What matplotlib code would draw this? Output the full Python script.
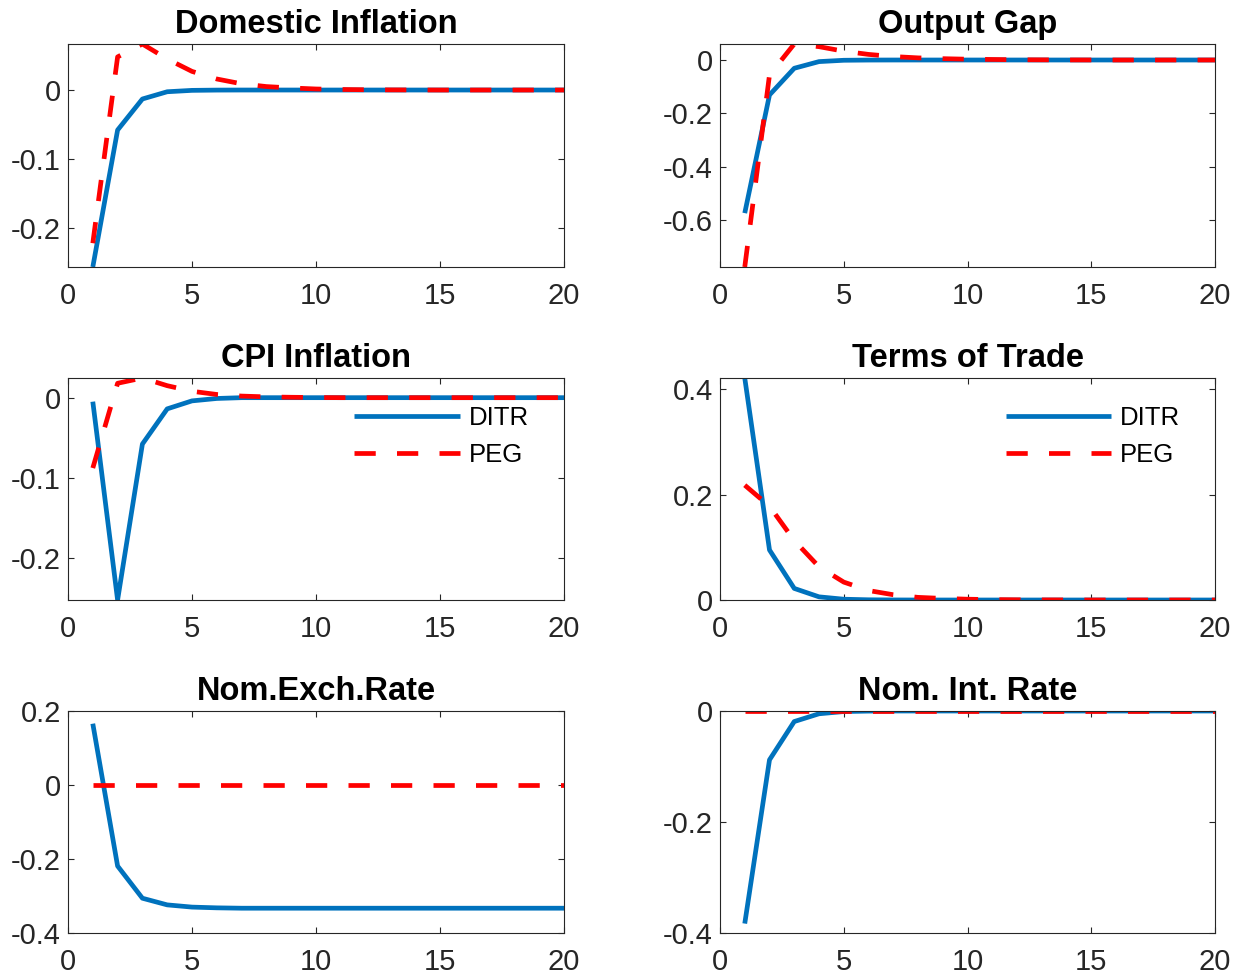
import matplotlib
matplotlib.use('Agg')
import matplotlib.pyplot as plt
from matplotlib.ticker import FormatStrFormatter
import numpy as np

plt.rcParams['font.family'] = ['Liberation Sans', 'DejaVu Sans']
plt.rcParams['axes.unicode_minus'] = False

# ── Data: impulse responses, periods 1..20 ────────────────────────────────────
periods = np.arange(1, 21)

dom_ditr = [-0.2565, -0.058, -0.013, -0.0025, -0.0005, -0.0001] + [0.0] * 14
dom_peg = [-0.222, 0.048, 0.0667, 0.045, 0.027, 0.016, 0.009, 0.005, 0.003,
           0.0015, 0.0008, 0.0004, 0.0002, 0.0001] + [0.0] * 6

gap_ditr = [-0.574, -0.131, -0.031, -0.006, -0.001, -0.0002] + [0.0] * 14
gap_peg = [-0.776, -0.056, 0.06, 0.05, 0.033, 0.021, 0.013, 0.008, 0.005,
           0.003, 0.002, 0.001, 0.0006, 0.0003, 0.0001] + [0.0] * 5

cpi_ditr = [-0.005, -0.253, -0.058, -0.014, -0.004, -0.001] + [0.0] * 14
cpi_peg = [-0.088, 0.018, 0.0246, 0.015, 0.008, 0.004, 0.002, 0.001, 0.0005,
           0.0002] + [0.0] * 10

tot_ditr = [0.4215, 0.095, 0.022, 0.006, 0.0015, 0.0004, 0.0001] + [0.0] * 13
tot_peg = [0.218, 0.178, 0.113, 0.063, 0.034, 0.018, 0.010, 0.005, 0.003,
           0.0015, 0.0008, 0.0004, 0.0002, 0.0001] + [0.0] * 6

exr_ditr = [0.1657, -0.219, -0.306, -0.324, -0.330, -0.332] + [-0.333] * 14
exr_peg = [0.0] * 20

int_ditr = [-0.383, -0.088, -0.019, -0.005, -0.001, -0.0002] + [0.0] * 14
int_peg = [0.0] * 20

series_names = ['DITR', 'PEG']

# ── Layout (MATLAB-style subplot grid) ───────────────────────────────────────
W, H = 1243, 975
fig = plt.figure(figsize=(W / 100, H / 100), dpi=100)
fig.patch.set_facecolor('white')

col_x = [68, 720]
col_w = [496, 495]
row_y = [(44, 267), (378, 600), (711, 933)]

blue = '#0072BD'
red = '#FF0000'
ink = '#262626'

panels = [
    ('Domestic Inflation', dom_ditr, dom_peg, [-0.2, -0.1, 0], None, False),
    ('Output Gap', gap_ditr, gap_peg, [-0.6, -0.4, -0.2, 0], None, False),
    ('CPI Inflation', cpi_ditr, cpi_peg, [-0.2, -0.1, 0], None, True),
    ('Terms of Trade', tot_ditr, tot_peg, [0, 0.2, 0.4], None, True),
    ('Nom.Exch.Rate', exr_ditr, exr_peg, [-0.4, -0.2, 0, 0.2], (-0.4, 0.2), False),
    ('Nom. Int. Rate', int_ditr, int_peg, [-0.4, -0.2, 0], (-0.4, 0.0), False),
]

for i, (title, ditr, peg, yticks, ylim, show_leg) in enumerate(panels):
    r, c = divmod(i, 2)
    top, bot = row_y[r]
    ax = fig.add_axes([col_x[c] / W, 1 - bot / H, col_w[c] / W, (bot - top) / H])

    ax.plot(periods, ditr, color=blue, lw=3.4, label=series_names[0],
            solid_capstyle='butt')
    ax.plot(periods, peg, color=red, lw=3.4, linestyle=(0, (4.5, 4.5)),
            label=series_names[1], dash_capstyle='butt')

    ax.set_xlim(0, 20)
    if ylim is None:
        # axis tight
        allv = np.concatenate([ditr, peg])
        ax.set_ylim(allv.min(), allv.max())
    else:
        ax.set_ylim(*ylim)
    ax.set_xticks([0, 5, 10, 15, 20])
    ax.set_yticks(yticks)
    ax.yaxis.set_major_formatter(FormatStrFormatter('%g'))

    for sp in ax.spines.values():
        sp.set_color(ink)
        sp.set_linewidth(0.8)
    ax.tick_params(axis='both', direction='in', top=True, right=True,
                   length=4, width=0.8, color=ink, labelcolor=ink,
                   labelsize=21)
    ax.tick_params(axis='x', pad=11)
    ax.tick_params(axis='y', pad=5)

    ax.set_title(title, fontsize=23.5, fontweight='bold', color='black', pad=8)

    if show_leg:
        leg = ax.legend(loc='upper left', bbox_to_anchor=(0.577, 0.872),
                        frameon=False, fontsize=18.5, handlelength=4.1,
                        handletextpad=0.35, labelspacing=0.5,
                        borderpad=0, borderaxespad=0)
        for t in leg.get_texts():
            t.set_color('black')

fig.savefig('out.png', dpi=100, facecolor='white')
plt.close(fig)
